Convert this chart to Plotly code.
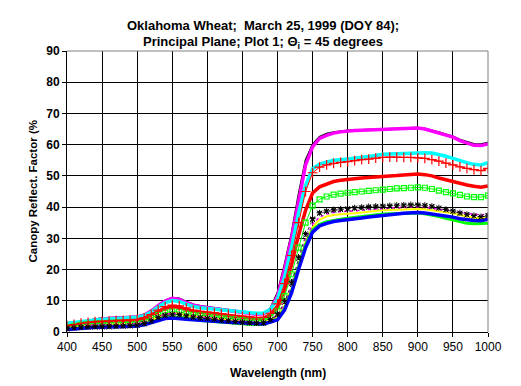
import plotly.graph_objects as go

wavelength = list(range(400, 1001, 10))

black_line = [2.2, 2.7, 3.2, 3.7, 4.1, 4.4, 4.5, 4.6, 4.7, 4.8, 5.0, 5.6, 6.9, 8.6, 10.1, 11.0, 10.7, 9.7, 8.8, 8.3, 8.0, 7.6, 7.3, 7.0, 6.7, 6.4, 6.1, 5.8, 5.9, 7.6,
              12.5, 21.5, 31.5, 44.0, 55.0, 60.0, 62.5, 63.5, 64.0, 64.3, 64.5, 64.6, 64.7, 64.8, 64.9, 65.0, 65.1, 65.2, 65.3, 65.4, 65.4, 65.1, 64.6, 64.0, 63.3, 62.6, 61.6, 60.8, 60.2, 60.1, 60.6]
magenta_line = [2.3, 2.7, 3.1, 3.5, 3.9, 4.2, 4.3, 4.4, 4.5, 4.6, 4.8, 5.4, 6.7, 8.4, 9.9, 10.8, 10.4, 9.4, 8.6, 8.1, 7.8, 7.5, 7.2, 6.9, 6.6, 6.3, 6.0, 5.7, 5.8, 7.2,
                11.5, 20.0, 30.0, 42.5, 53.5, 59.3, 62.0, 63.0, 63.7, 64.1, 64.4, 64.5, 64.6, 64.7, 64.8, 64.9, 65.0, 65.1, 65.2, 65.3, 65.3, 65.0, 64.4, 63.8, 63.1, 62.4, 61.3, 60.4, 59.8, 59.7, 60.2]
cyan_line = [2.8, 3.1, 3.4, 3.7, 3.9, 4.1, 4.2, 4.3, 4.4, 4.5, 4.7, 5.2, 6.4, 8.0, 9.4, 10.1, 9.8, 8.9, 8.2, 7.8, 7.6, 7.3, 7.0, 6.8, 6.6, 6.4, 6.2, 6.0, 6.1, 7.3,
             10.5, 17.5, 27.0, 38.0, 47.0, 52.3, 53.8, 54.5, 55.0, 55.2, 55.4, 55.6, 55.9, 56.2, 56.5, 56.9, 57.0, 57.1, 57.2, 57.3, 57.4, 57.4, 57.3, 56.9, 56.3, 55.6, 54.8, 54.2, 53.7, 53.5, 54.2]
red_plus = [2.0, 2.4, 2.8, 3.1, 3.3, 3.4, 3.5, 3.6, 3.7, 3.8, 4.0, 4.5, 5.6, 7.0, 8.1, 8.6, 8.4, 7.7, 7.0, 6.6, 6.4, 6.1, 5.8, 5.6, 5.3, 5.1, 4.8, 4.6, 4.7, 6.0,
            9.0, 15.5, 24.5, 35.0, 45.0, 51.0, 52.8, 53.5, 54.0, 54.3, 54.6, 54.9, 55.2, 55.4, 55.7, 55.9, 56.0, 56.0, 55.9, 55.9, 55.8, 55.6, 55.2, 54.7, 54.1, 53.5, 52.9, 52.4, 52.0, 51.7, 52.4]
red_line = [1.8, 2.2, 2.6, 2.9, 3.1, 3.2, 3.3, 3.4, 3.5, 3.6, 3.8, 4.3, 5.3, 6.6, 7.6, 8.1, 7.9, 7.2, 6.6, 6.3, 6.1, 5.8, 5.5, 5.3, 5.0, 4.8, 4.5, 4.3, 4.4, 5.6,
            8.0, 13.5, 21.5, 31.0, 39.0, 44.5, 46.5, 47.5, 48.2, 48.6, 48.9, 49.1, 49.3, 49.5, 49.6, 49.7, 49.9, 50.1, 50.3, 50.5, 50.6, 50.4, 50.0, 49.3, 48.7, 48.2, 47.6, 47.1, 46.7, 46.4, 46.8]
green_squares = [1.5, 1.9, 2.3, 2.6, 2.7, 2.8, 2.9, 3.0, 3.0, 3.1, 3.2, 3.6, 4.4, 5.5, 6.2, 6.5, 6.4, 5.9, 5.5, 5.3, 5.2, 4.9, 4.6, 4.4, 4.2, 3.9, 3.7, 3.5, 3.6, 4.8,
                 6.8, 11.5, 18.5, 27.0, 35.0, 40.5, 42.5, 43.4, 44.0, 44.3, 44.6, 44.8, 45.0, 45.2, 45.4, 45.6, 45.8, 46.0, 46.1, 46.2, 46.3, 46.2, 45.8, 45.3, 44.8, 44.4, 43.9, 43.4, 43.2, 43.2, 43.7]
black_x = [1.0, 1.2, 1.4, 1.5, 1.5, 1.6, 1.6, 1.7, 1.8, 1.9, 2.1, 2.6, 3.4, 4.5, 5.2, 5.5, 5.4, 5.0, 4.6, 4.4, 4.3, 4.0, 3.7, 3.5, 3.2, 3.0, 2.8, 2.7, 2.8, 3.8,
           5.5, 9.5, 15.5, 23.5, 31.0, 36.0, 38.0, 38.6, 39.0, 39.2, 39.3, 39.5, 39.7, 39.9, 40.0, 40.1, 40.2, 40.3, 40.4, 40.5, 40.5, 40.4, 40.1, 39.6, 39.1, 38.6, 38.0, 37.5, 37.1, 36.8, 37.2]
black_asterisk = [1.2, 1.4, 1.6, 1.7, 1.8, 1.8, 1.9, 1.9, 2.0, 2.1, 2.3, 2.8, 3.6, 4.7, 5.4, 5.7, 5.6, 5.2, 4.8, 4.6, 4.4, 4.1, 3.8, 3.6, 3.4, 3.2, 3.0, 2.9, 3.0, 4.0,
                  5.8, 10.0, 16.0, 24.0, 31.5, 36.3, 38.2, 38.8, 39.2, 39.4, 39.6, 39.8, 40.0, 40.2, 40.3, 40.4, 40.5, 40.6, 40.7, 40.8, 40.8, 40.6, 40.3, 39.8, 39.3, 38.8, 38.2, 37.7, 37.3, 37.0, 37.4]
magenta_dotted = [1.3, 1.6, 1.9, 2.1, 2.2, 2.3, 2.4, 2.5, 2.5, 2.6, 2.7, 3.1, 3.9, 5.0, 5.7, 6.0, 5.9, 5.4, 5.0, 4.7, 4.6, 4.3, 4.0, 3.8, 3.6, 3.4, 3.2, 3.0, 3.1, 4.1,
                  5.3, 9.0, 14.5, 22.0, 29.5, 34.5, 36.8, 37.8, 38.3, 38.5, 38.6, 38.8, 39.0, 39.2, 39.4, 39.6, 39.7, 39.8, 39.9, 40.0, 40.0, 39.9, 39.7, 39.3, 39.0, 38.8, 38.4, 38.0, 37.7, 37.5, 37.8]
yellow_line = [1.3, 1.6, 1.9, 2.1, 2.2, 2.2, 2.3, 2.4, 2.5, 2.5, 2.6, 3.0, 3.8, 4.9, 5.7, 6.0, 5.9, 5.4, 5.0, 4.8, 4.6, 4.3, 4.0, 3.8, 3.6, 3.4, 3.2, 3.0, 3.1, 4.1,
               5.0, 8.5, 14.0, 21.5, 29.0, 33.5, 36.0, 37.0, 37.5, 37.7, 37.8, 38.0, 38.3, 38.6, 38.8, 39.0, 39.1, 39.2, 39.3, 39.4, 39.4, 39.3, 39.0, 38.6, 38.3, 38.0, 37.5, 37.0, 36.6, 36.4, 36.5]
green_line = [1.0, 1.2, 1.4, 1.6, 1.7, 1.8, 1.8, 1.9, 1.9, 2.0, 2.1, 2.5, 3.2, 4.1, 4.6, 4.8, 4.7, 4.3, 3.9, 3.7, 3.5, 3.3, 3.1, 2.9, 2.8, 2.6, 2.5, 2.4, 2.5, 3.3,
              4.2, 7.5, 13.0, 21.0, 28.0, 32.7, 34.5, 35.3, 35.8, 36.1, 36.4, 36.7, 37.0, 37.3, 37.6, 37.8, 37.9, 38.0, 38.0, 38.1, 38.1, 37.9, 37.5, 37.0, 36.4, 35.9, 35.3, 34.8, 34.7, 34.7, 34.8]
blue_line = [0.8, 1.0, 1.2, 1.4, 1.5, 1.5, 1.6, 1.6, 1.7, 1.8, 1.9, 2.3, 3.0, 3.8, 4.3, 4.5, 4.4, 4.1, 3.9, 3.8, 3.7, 3.5, 3.3, 3.1, 3.0, 2.8, 2.7, 2.6, 2.6, 3.2,
             3.9, 7.0, 12.5, 20.0, 27.0, 32.0, 34.0, 34.8, 35.4, 35.7, 35.9, 36.2, 36.5, 36.8, 37.1, 37.4, 37.6, 37.8, 38.0, 38.2, 38.3, 38.1, 37.8, 37.4, 37.1, 36.8, 36.3, 35.9, 35.7, 35.6, 36.1]

x_ticks = list(range(400, 1001, 50))
y_ticks = list(range(0, 91, 10))

FONT = "Liberation Sans, Arial, sans-serif"

fig = go.Figure()

def add(y, color, width=3, dash="solid", mode="lines", symbol=None, msize=6, mwidth=1):
    kw = dict(x=wavelength, y=y, mode=mode, showlegend=False, hoverinfo="skip",
              line=dict(color=color, width=width, dash=dash))
    if symbol:
        kw["marker"] = dict(symbol=symbol, size=msize, color=color,
                            line=dict(color=color, width=mwidth))
    fig.add_trace(go.Scatter(**kw))

add(black_line, "#000000", width=2)
add(magenta_line, "#FF00FF", width=3.5)
add(cyan_line, "#00FFFF", width=3.5)
add(red_line, "#FF0000", width=3.5)
add(green_squares, "#00FF00", width=1, mode="lines+markers", symbol="square-open", msize=5, mwidth=1.2)
add(yellow_line, "#FFFF00", width=2)
add(magenta_dotted, "#FF00FF", width=1.5, dash="dot")
add(green_line, "#00FF00", width=3)
add(blue_line, "#0000FF", width=3.5)
add(red_plus, "#FF0000", width=1, mode="lines+markers", symbol="cross-thin-open", msize=7, mwidth=1.2)
add(black_x, "#000000", width=0.8, dash="dot", mode="lines+markers", symbol="x-thin-open", msize=5, mwidth=1)
add(black_asterisk, "#000000", width=0.8, dash="dot", mode="markers", symbol="asterisk-open", msize=5, mwidth=1)

# page body has an 8px margin, so the figure is sized to fit the 521x386 window
fig.update_layout(
    width=513, height=378,
    margin=dict(l=59, r=33, t=43, b=54),
    paper_bgcolor="white", plot_bgcolor="white",
    font=dict(family=FONT, size=12, color="black"),
    xaxis=dict(range=[400, 1000], tickvals=x_ticks, ticktext=[str(v) for v in x_ticks],
               showgrid=True, gridcolor="black", gridwidth=1,
               showline=True, linecolor="black", linewidth=1,
               ticks="outside", ticklen=4, tickcolor="black", automargin=False,
               zeroline=False, tickfont=dict(size=12, family=FONT)),
    yaxis=dict(range=[0, 90], tickvals=y_ticks, ticktext=[str(v) for v in y_ticks],
               showgrid=True, gridcolor="black", gridwidth=1,
               showline=True, linecolor="black", linewidth=1,
               ticks="outside", ticklen=4, tickcolor="black", automargin=False,
               zeroline=False, tickfont=dict(size=12, family=FONT, weight="bold")),
    shapes=[
        dict(type="line", xref="paper", yref="paper", x0=0, x1=1, y0=1, y1=1,
             line=dict(color="#808080", width=1), layer="above"),
        dict(type="line", xref="paper", yref="paper", x0=1, x1=1, y0=0, y1=1,
             line=dict(color="#808080", width=1), layer="above"),
    ],
    annotations=[
        dict(text="Oklahoma Wheat;\u00a0 March 25, 1999 (DOY 84);",
             xref="paper", yref="paper", x=0.465, y=1.0925, xanchor="center", yanchor="middle",
             showarrow=False, font=dict(size=13, family=FONT, weight="bold")),
        dict(text="Principal Plane; Plot 1; \u0398<sub>i</sub> = 45 degrees",
             xref="paper", yref="paper", x=0.465, y=1.032, xanchor="center", yanchor="middle",
             showarrow=False, font=dict(size=13, family=FONT, weight="bold")),
        dict(text="Wavelength (nm)",
             xref="paper", yref="paper", x=0.5, y=-0.146, xanchor="center", yanchor="middle",
             showarrow=False, font=dict(size=12, family=FONT, weight="bold")),
        dict(text="Canopy Reflect. Factor (%",
             xref="paper", yref="paper", x=-0.083, y=0.5, xanchor="center", yanchor="middle",
             textangle=-90, showarrow=False, font=dict(size=11.5, family=FONT, weight="bold")),
    ],
)

fig.write_html("out.html")
